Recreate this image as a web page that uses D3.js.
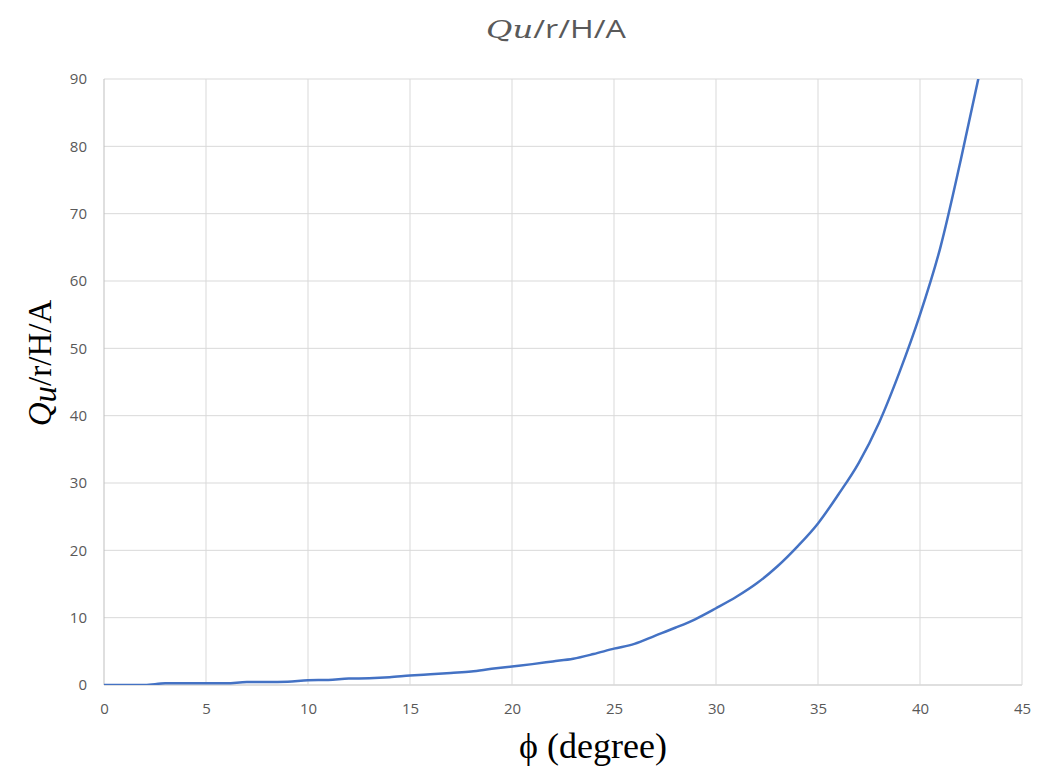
<!DOCTYPE html>
<html>
<head>
<meta charset="utf-8">
<script src="https://cdn.jsdelivr.net/npm/d3@7"></script>
<style>
  html, body { margin: 0; padding: 0; background: #ffffff; }
  svg { display: block; }
</style>
</head>
<body>
<svg id="chart" width="1037" height="772"></svg>
<script>
// Friction angle (degrees) and the normalised capacity Qu/r/H/A
const phiDeg = [0,1,2,3,4,5,6,7,8,9,10,11,12,13,14,15,16,17,18,19,20,21,22,23,24,25,26,27,28,29,30,31,32,33,34,35,36,37,38,39,40,41,42,43];
const quValues = [0,0,0,0.25,0.25,0.25,0.25,0.45,0.45,0.5,0.7,0.75,0.95,1.0,1.15,1.4,1.6,1.8,2.0,2.4,2.75,3.1,3.5,3.9,4.6,5.4,6.1,7.3,8.5,9.8,11.4,13.1,15.1,17.6,20.6,24.0,28.3,33.0,39.0,46.5,55.0,65.0,78.0,92.0];
const xTicks = [0,5,10,15,20,25,30,35,40,45];
const yTicks = [0,10,20,30,40,50,60,70,80,90];

const svg = d3.select("#chart");
const margin = { left: 104, right: 15, top: 79, bottom: 87 };
const W = 1037, H = 772;
const innerW = W - margin.left - margin.right;
const innerH = H - margin.top - margin.bottom;

const x = d3.scaleLinear().domain([0, 45]).range([margin.left, margin.left + innerW]);
const y = d3.scaleLinear().domain([0, 90]).range([margin.top + innerH, margin.top]);

// Gridlines
const grid = svg.append("g");
grid.selectAll("line.h").data(yTicks).join("line")
  .attr("x1", x(0)).attr("x2", x(45))
  .attr("y1", d => y(d)).attr("y2", d => y(d))
  .attr("stroke", d => d === 0 ? "#bfbfbf" : "#d9d9d9")
  .attr("stroke-width", 1);
grid.selectAll("line.v").data(xTicks).join("line")
  .attr("y1", y(0)).attr("y2", y(90))
  .attr("x1", d => x(d)).attr("x2", d => x(d))
  .attr("stroke", d => d === 0 ? "#bfbfbf" : "#d9d9d9")
  .attr("stroke-width", 1);

// Axes (labels only; lines drawn as gridlines)
const tickFont = "'Open Sans', 'Liberation Sans', sans-serif";
const xAxis = svg.append("g")
  .attr("transform", `translate(0,${y(0)})`)
  .call(d3.axisBottom(x).tickValues(xTicks).tickSize(0).tickPadding(18));
xAxis.select(".domain").remove();
xAxis.selectAll("text")
  .attr("fill", "#595959")
  .style("font-family", tickFont)
  .style("font-size", "15px");

const yAxis = svg.append("g")
  .attr("transform", `translate(${x(0)},0)`)
  .call(d3.axisLeft(y).tickValues(yTicks).tickSize(0).tickPadding(17));
yAxis.select(".domain").remove();
yAxis.selectAll("text")
  .attr("fill", "#595959")
  .style("font-family", tickFont)
  .style("font-size", "15px");

// Clip the curve to the plot area
svg.append("clipPath").attr("id", "plotClip")
  .append("rect")
  .attr("x", x(0)).attr("y", y(90))
  .attr("width", x(45) - x(0)).attr("height", y(0) - y(90));

const points = phiDeg.map((p, i) => [p, quValues[i]]);
const line = d3.line().x(d => x(d[0])).y(d => y(d[1])).curve(d3.curveMonotoneX);

svg.append("path")
  .datum(points)
  .attr("clip-path", "url(#plotClip)")
  .attr("fill", "none")
  .attr("stroke", "#4472c4")
  .attr("stroke-width", 2.5)
  .attr("stroke-linejoin", "round")
  .attr("d", line);

// Title
const title = svg.append("text")
  .attr("x", 556)
  .attr("y", 38)
  .attr("text-anchor", "middle")
  .attr("fill", "#595959")
  .attr("textLength", 140)
  .attr("lengthAdjust", "spacingAndGlyphs")
  .style("font-size", "25px");
title.append("tspan")
  .style("font-family", "'DejaVu Serif', 'Liberation Serif', serif")
  .style("font-style", "italic")
  .text("Qu");
title.append("tspan")
  .style("font-family", "'Open Sans', 'Liberation Sans', sans-serif")
  .text("/r/H/A");

// X axis title
svg.append("text")
  .attr("x", 593)
  .attr("y", 758)
  .attr("text-anchor", "middle")
  .attr("fill", "#000")
  .style("font-family", "'Liberation Serif', 'Times New Roman', serif")
  .style("font-size", "36px")
  .text("ϕ (degree)");

// Y axis title
const yTitle = svg.append("text")
  .attr("transform", `translate(51,363) rotate(-90)`)
  .attr("text-anchor", "middle")
  .attr("fill", "#000")
  .style("font-family", "'Liberation Serif', 'Times New Roman', serif")
  .style("font-size", "33px");
yTitle.append("tspan").style("font-style", "italic").text("Q");
yTitle.append("tspan").style("font-style", "italic").attr("dy", 5).text("u");
yTitle.append("tspan").attr("dy", -5).text("/r/H/A");
</script>
</body>
</html>
